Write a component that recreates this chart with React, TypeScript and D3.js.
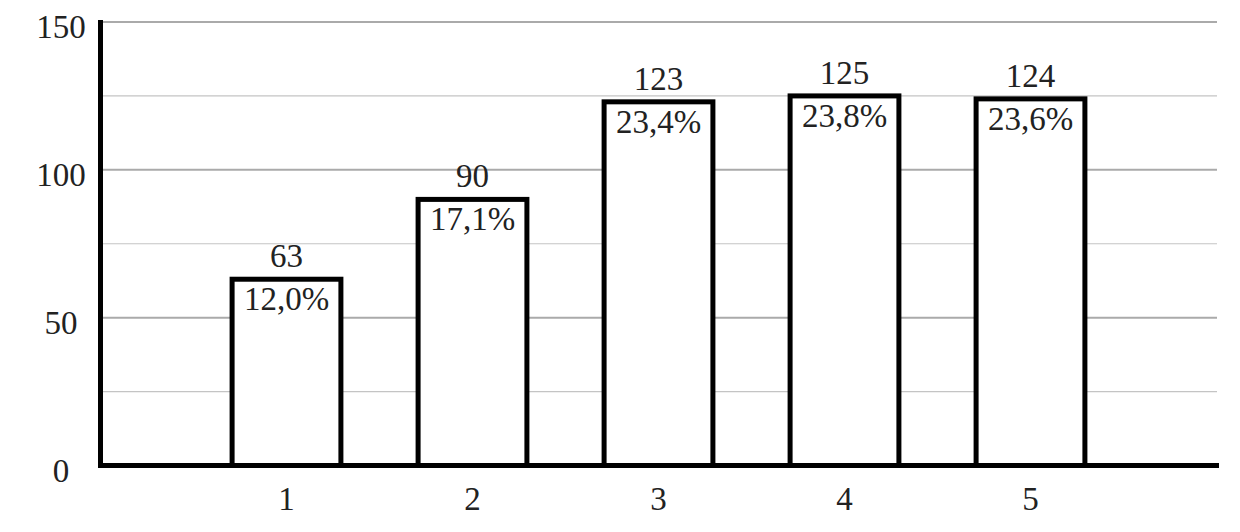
import React, { useRef, useEffect } from 'react'
import * as d3 from 'd3'

const categories = ['1', '2', '3', '4', '5']
const counts = [63, 90, 123, 125, 124]
const shares = ['12,0%', '17,1%', '23,4%', '23,8%', '23,6%']
const yTicks = [0, 50, 100, 150]
const yMinorTicks = [25, 75, 125]

export default function App() {
  const svgRef = useRef<SVGSVGElement>(null)

  useEffect(() => {
    if (!svgRef.current) return
    const svg = d3.select(svgRef.current)
    svg.selectAll('*').remove()

    const font = '"Liberation Serif", "Times New Roman", serif'
    const fontSize = 33
    const x0 = 100.5
    const x1 = 1217
    const yBase = 465.5
    const yTop = 22

    const y = d3.scaleLinear().domain([0, 150]).range([yBase, yTop])
    const step = 186
    const x = d3.scaleBand<string>()
      .domain(categories)
      .range([x0 + step / 2, x0 + step * 5.5])
      .paddingInner(0.415)
      .paddingOuter(0.2075)

    // Grid lines
    svg.append('g')
      .selectAll('line')
      .data(yMinorTicks)
      .enter().append('line')
      .attr('x1', x0).attr('x2', x1)
      .attr('y1', d => y(d)).attr('y2', d => y(d))
      .attr('stroke', '#c4c4c4')
      .attr('stroke-width', 1.2)

    svg.append('g')
      .selectAll('line')
      .data(yTicks.filter(d => d > 0))
      .enter().append('line')
      .attr('x1', x0).attr('x2', x1)
      .attr('y1', d => y(d)).attr('y2', d => y(d))
      .attr('stroke', '#aaaaaa')
      .attr('stroke-width', 2)

    // Y tick labels
    svg.append('g')
      .selectAll('text')
      .data(yTicks)
      .enter().append('text')
      .attr('x', 61)
      .attr('y', d => y(d) + 5)
      .attr('text-anchor', 'middle')
      .attr('dominant-baseline', 'central')
      .attr('font-family', font)
      .attr('font-size', fontSize)
      .attr('fill', '#222')
      .text(d => d)

    // Bars
    svg.append('g')
      .selectAll('rect')
      .data(counts)
      .enter().append('rect')
      .attr('x', (_, i) => x(categories[i])!)
      .attr('width', x.bandwidth())
      .attr('y', d => y(d))
      .attr('height', d => yBase - y(d))
      .attr('fill', '#fff')
      .attr('stroke', '#000')
      .attr('stroke-width', 5)

    // Axes
    svg.append('line')
      .attr('x1', x0).attr('x2', x0)
      .attr('y1', 20).attr('y2', yBase + 2.5)
      .attr('stroke', '#000').attr('stroke-width', 5)
    svg.append('line')
      .attr('x1', x0 - 2.5).attr('x2', 1219)
      .attr('y1', yBase).attr('y2', yBase)
      .attr('stroke', '#000').attr('stroke-width', 5)

    // X tick labels
    svg.append('g')
      .selectAll('text')
      .data(categories)
      .enter().append('text')
      .attr('x', d => x(d)! + x.bandwidth() / 2)
      .attr('y', 499)
      .attr('text-anchor', 'middle')
      .attr('dominant-baseline', 'central')
      .attr('font-family', font)
      .attr('font-size', fontSize)
      .attr('fill', '#222')
      .text(d => d)

    // Count labels above bars
    svg.append('g')
      .selectAll('text')
      .data(counts)
      .enter().append('text')
      .attr('x', (_, i) => x(categories[i])! + x.bandwidth() / 2)
      .attr('y', d => y(d) - 12)
      .attr('text-anchor', 'middle')
      .attr('font-family', font)
      .attr('font-size', fontSize)
      .attr('fill', '#222')
      .text(d => d)

    // Share labels inside bars
    svg.append('g')
      .selectAll('text')
      .data(counts)
      .enter().append('text')
      .attr('x', (_, i) => x(categories[i])! + x.bandwidth() / 2)
      .attr('y', d => y(d) + 31)
      .attr('text-anchor', 'middle')
      .attr('font-family', font)
      .attr('font-size', fontSize)
      .attr('fill', '#222')
      .text((_, i) => shares[i])
  }, [])

  return (
    <svg
      ref={svgRef}
      width={1240}
      height={532}
      style={{ position: 'absolute', left: 0, top: 0, background: '#fff' }}
    />
  )
}
